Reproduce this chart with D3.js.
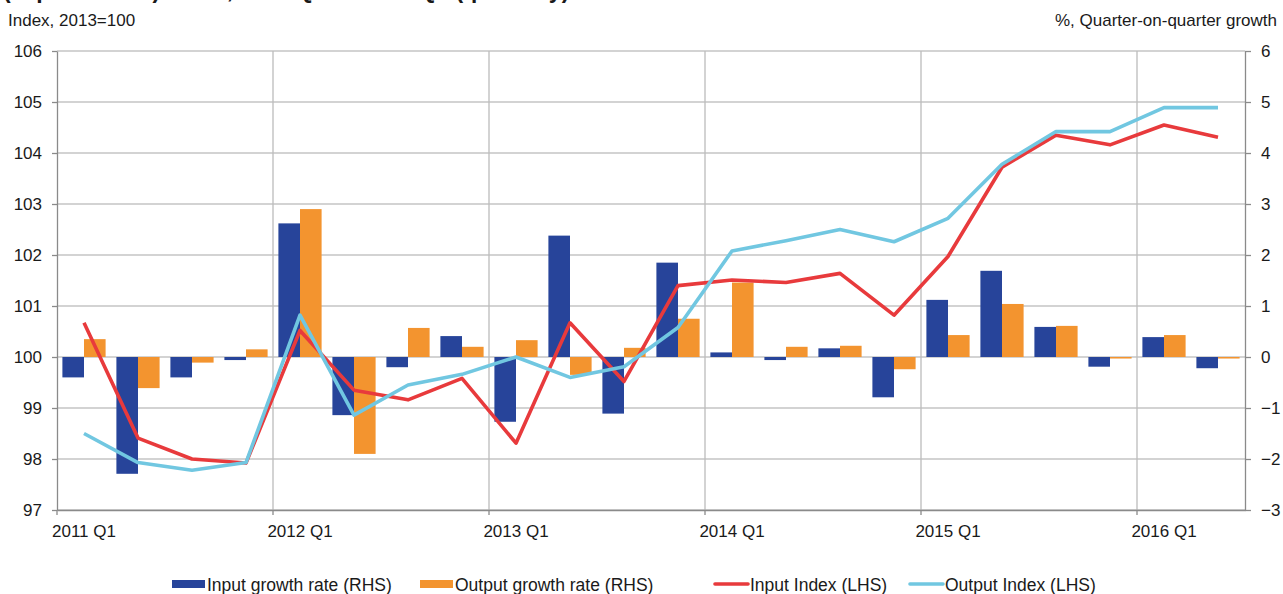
<!DOCTYPE html>
<html>
<head>
<meta charset="utf-8">
<script src="https://cdn.jsdelivr.net/npm/d3@7"></script>
<style>
body { margin: 0; background: #fff; }
svg text { font-family: "Liberation Sans", Arial, sans-serif; fill: #1a1a1a; }
</style>
</head>
<body>
<svg id="chart" width="1283" height="594"></svg>
<script>
// quarters on the x axis
var quarters = ["2011 Q1","2011 Q2","2011 Q3","2011 Q4",
                "2012 Q1","2012 Q2","2012 Q3","2012 Q4",
                "2013 Q1","2013 Q2","2013 Q3","2013 Q4",
                "2014 Q1","2014 Q2","2014 Q3","2014 Q4",
                "2015 Q1","2015 Q2","2015 Q3","2015 Q4",
                "2016 Q1","2016 Q2"];

// % quarter-on-quarter growth (RHS)
var inputGrowth  = [-0.40, -2.29, -0.40, -0.06, 2.62, -1.14, -0.20, 0.41, -1.27, 2.38, -1.11, 1.85,
                     0.09, -0.06, 0.17, -0.79, 1.12, 1.69, 0.59, -0.19, 0.39, -0.22];
var outputGrowth = [0.35, -0.61, -0.11, 0.15, 2.90, -1.90, 0.57, 0.20, 0.33, -0.35, 0.18, 0.75,
                    1.46, 0.20, 0.22, -0.24, 0.43, 1.04, 0.61, -0.03, 0.43, -0.03];

// index, 2013=100 (LHS)
var inputIndex  = [100.67, 98.41, 98.00, 97.92, 100.52, 99.35, 99.16, 99.58, 98.31, 100.67, 99.52, 101.40,
                   101.51, 101.46, 101.64, 100.82, 101.97, 103.72, 104.35, 104.16, 104.55, 104.31];
var outputIndex = [98.50, 97.93, 97.78, 97.93, 100.82, 98.86, 99.45, 99.66, 100.00, 99.60, 99.81, 100.58,
                   102.08, 102.28, 102.50, 102.26, 102.72, 103.78, 104.42, 104.42, 104.89, 104.89];

var leftTicks  = [97, 98, 99, 100, 101, 102, 103, 104, 105, 106];
var rightTicks = [-3, -2, -1, 0, 1, 2, 3, 4, 5, 6];
var yearTicks  = ["2011 Q1","2012 Q1","2013 Q1","2014 Q1","2015 Q1","2016 Q1"];

var colors = { inGrowth: "#27449a", outGrowth: "#f3942f", inIndex: "#e83a3c", outIndex: "#71c7e1" };

var svg = d3.select("#chart");
var margin = {top: 51, right: 38, bottom: 84, left: 57};
var W = +svg.attr("width"), H = +svg.attr("height");
var x0 = margin.left, x1 = W - margin.right, yTop = margin.top, yBot = H - margin.bottom;

var x = d3.scaleBand().domain(quarters).range([x0, x1]);
var xs = d3.scaleBand().domain(["in","out"]).range([0, x.bandwidth()]).paddingOuter(0.25);
var yL = d3.scaleLinear().domain([97, 106]).range([yBot, yTop]);
var yR = d3.scaleLinear().domain([-3, 6]).range([yBot, yTop]);

// title, cut off at the top edge as in the original picture
svg.append("text").attr("x", 3).attr("y", -2)
    .style("font-size", "23px").style("font-weight", "bold")
    .text("(experimental) index, 2011 Q1 to 2016 Q2 (quarterly)");

// gridlines
svg.append("g").selectAll("line").data(leftTicks).enter().append("line")
    .attr("x1", x0).attr("x2", x1)
    .attr("y1", function(d){ return yL(d); }).attr("y2", function(d){ return yL(d); })
    .attr("stroke", "#c4c4c4").attr("stroke-width", 1.3);
svg.append("g").selectAll("line").data(yearTicks.slice(1)).enter().append("line")
    .attr("x1", function(d){ return x(d); }).attr("x2", function(d){ return x(d); })
    .attr("y1", yTop).attr("y2", yBot)
    .attr("stroke", "#bcbcbc").attr("stroke-width", 1.3);

// bars
function bars(vals, key, col) {
    svg.append("g").selectAll("rect").data(vals).enter().append("rect")
        .attr("x", function(d, i){ return x(quarters[i]) + xs(key); })
        .attr("width", xs.bandwidth())
        .attr("y", function(d){ return yR(Math.max(0, d)); })
        .attr("height", function(d){ return Math.abs(yR(d) - yR(0)); })
        .attr("fill", col);
}
bars(inputGrowth, "in", colors.inGrowth);
bars(outputGrowth, "out", colors.outGrowth);

// lines
var line = d3.line()
    .x(function(d, i){ return x(quarters[i]) + x.bandwidth() / 2; })
    .y(function(d){ return yL(d); });
svg.append("path").datum(inputIndex).attr("d", line)
    .attr("fill", "none").attr("stroke", colors.inIndex).attr("stroke-width", 3.6).attr("stroke-linejoin", "round");
svg.append("path").datum(outputIndex).attr("d", line)
    .attr("fill", "none").attr("stroke", colors.outIndex).attr("stroke-width", 3.6).attr("stroke-linejoin", "round");

// axes
var axisCol = "#8a8a8a";
var gl = svg.append("g").attr("transform", "translate(" + x0 + ",0)")
    .call(d3.axisLeft(yL).tickValues(leftTicks).tickSize(5).tickSizeOuter(0).tickPadding(10));
var gr = svg.append("g").attr("transform", "translate(" + x1 + ",0)")
    .call(d3.axisRight(yR).tickValues(rightTicks).tickSize(6).tickSizeOuter(0).tickPadding(10));
var gb = svg.append("g").attr("transform", "translate(0," + yBot + ")")
    .call(d3.axisBottom(x).tickValues(yearTicks).tickSize(0).tickSizeOuter(0).tickPadding(15));
[gl, gr, gb].forEach(function(g){
    g.selectAll("path.domain").attr("stroke", axisCol).attr("stroke-width", 1.3);
    g.selectAll(".tick line").attr("stroke", axisCol).attr("stroke-width", 1.3);
    g.selectAll("text").style("font-size", "17px").attr("fill", "#1a1a1a")
        .style("font-family", "'Liberation Sans', Arial, sans-serif");
});
gr.selectAll("text").attr("text-anchor", "start");
// year boundary ticks below the x axis
svg.append("g").selectAll("line").data(yearTicks).enter().append("line")
    .attr("x1", function(d){ return x(d); }).attr("x2", function(d){ return x(d); })
    .attr("y1", yBot).attr("y2", yBot + 5)
    .attr("stroke", axisCol).attr("stroke-width", 1.3);

// axis titles
svg.append("text").attr("x", 8).attr("y", 26).style("font-size", "17px").text("Index, 2013=100");
svg.append("text").attr("x", 1277).attr("y", 26).attr("text-anchor", "end")
    .style("font-size", "17px").text("%, Quarter-on-quarter growth");

// legend
var legendItems = [
    {label: "Input growth rate (RHS)",  color: colors.inGrowth,  type: "bar",  x: 172},
    {label: "Output growth rate (RHS)", color: colors.outGrowth, type: "bar",  x: 420},
    {label: "Input Index (LHS)",        color: colors.inIndex,   type: "line", x: 715},
    {label: "Output Index (LHS)",       color: colors.outIndex,  type: "line", x: 910}
];
var lg = svg.append("g").selectAll("g").data(legendItems).enter().append("g")
    .attr("transform", function(d){ return "translate(" + d.x + ",584)"; });
lg.filter(function(d){ return d.type == "bar"; }).append("rect")
    .attr("x", 0).attr("y", -4).attr("width", 33).attr("height", 8)
    .attr("fill", function(d){ return d.color; });
lg.filter(function(d){ return d.type == "line"; }).append("line")
    .attr("x1", 0).attr("x2", 33).attr("y1", 0).attr("y2", 0)
    .attr("stroke", function(d){ return d.color; }).attr("stroke-width", 3.6).attr("stroke-linecap", "round");
lg.append("text").attr("x", 35).attr("y", 6.5).style("font-size", "17.5px")
    .text(function(d){ return d.label; });
</script>
</body>
</html>
